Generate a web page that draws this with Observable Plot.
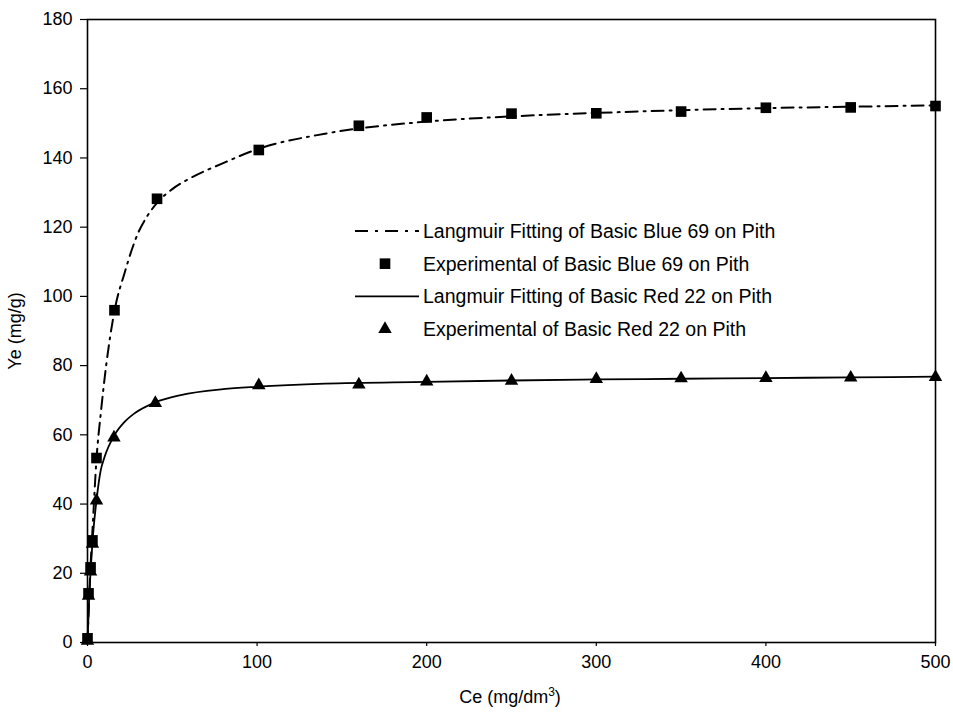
<!DOCTYPE html>
<html>
<head>
<meta charset="utf-8">
<script src="https://cdn.jsdelivr.net/npm/d3@7"></script>
<script src="https://cdn.jsdelivr.net/npm/@observablehq/plot@0.6"></script>
<style>
  html, body { margin: 0; padding: 0; background: #fff; }
  #chart { position: relative; width: 953px; height: 714px; }
  #chart svg { position: absolute; left: 0; top: 0; }
</style>
</head>
<body>
<div id="chart"></div>
<script>
// Equilibrium concentration Ce (mg/dm3) and uptake Ye (mg/g)
const blueCe  = [0, 0.6, 1.8, 2.9, 5.3, 15.9, 41, 101, 160, 200, 250, 300, 350, 400, 450, 500];
const blueYe  = [1.2, 14.2, 21.7, 29.5, 53.3, 96, 128.2, 142.3, 149.3, 151.7, 152.8, 152.9, 153.4, 154.5, 154.6, 155];

const redCe   = [0, 0.6, 1.8, 2.9, 5.3, 15.6, 40, 101, 160, 200, 250, 300, 350, 400, 450, 500];
const redYe   = [0.5, 13.5, 20.5, 28.5, 41, 59.2, 69.2, 74.3, 74.5, 75.4, 75.6, 76.1, 76.3, 76.4, 76.5, 76.7];

// Langmuir fitted curves
const blueFitCe = [0, 1, 2, 3, 5.3, 8, 11, 16, 22, 30, 35, 41, 50, 60, 80, 100, 140, 200, 250, 300, 350, 400, 450, 500];
const blueFitYe = [0, 13, 24, 33, 53, 67, 80, 96, 107, 118.5, 123, 127, 131, 134, 138.5, 142.5, 147, 150.5, 152, 153, 153.8, 154.4, 154.8, 155.2];

const redFitCe = [0, 1, 2, 3, 5.3, 7.7, 10, 16, 22, 28, 40, 55, 80, 100, 140, 200, 250, 300, 350, 400, 450, 500];
const redFitYe = [0, 13, 22, 29.5, 41, 49.5, 53.5, 60, 63.8, 66.3, 69.4, 71.5, 73.2, 73.9, 74.8, 75.3, 75.7, 76, 76.2, 76.4, 76.6, 76.8];

const xTicks = [0, 100, 200, 300, 400, 500];
const yTicks = [0, 20, 40, 60, 80, 100, 120, 140, 160, 180];

const legendItems = [
  {label: "Langmuir Fitting of Basic Blue 69 on Pith", kind: "dashdot"},
  {label: "Experimental of Basic Blue 69 on Pith", kind: "square"},
  {label: "Langmuir Fitting of Basic Red 22 on Pith", kind: "solid"},
  {label: "Experimental of Basic Red 22 on Pith", kind: "triangle"}
];

const zip = (xs, ys) => xs.map((x, i) => ({x, y: ys[i]}));
const blue = zip(blueCe, blueYe), red = zip(redCe, redYe);
const blueFit = zip(blueFitCe, blueFitYe), redFit = zip(redFitCe, redFitYe);

const FONT = "'Liberation Sans', Arial, sans-serif";
const dashDot = "12,6,2,6";
const SQ_R = 6, TRI_R = 5;

const plot = Plot.plot({
  width: 953,
  height: 714,
  marginLeft: 87,
  marginRight: 18,
  marginTop: 19,
  marginBottom: 72,
  style: {fontFamily: FONT, fontSize: "18px", color: "#000", background: "#fff"},
  x: {domain: [0, 500], ticks: xTicks, label: null, tickSize: 4, tickPadding: 9},
  y: {domain: [0, 180], ticks: yTicks, label: null, tickSize: 7, tickPadding: 8},
  marks: [
    Plot.line(blueFit, {x: "x", y: "y", curve: "monotone-x", stroke: "#000", strokeWidth: 2, strokeDasharray: dashDot}),
    Plot.line(redFit, {x: "x", y: "y", curve: "monotone-x", stroke: "#000", strokeWidth: 1.8}),
    Plot.dot(red, {x: "x", y: "y", symbol: "triangle", r: TRI_R, fill: "#000", stroke: "none"}),
    Plot.dot(blue, {x: "x", y: "y", symbol: "square", r: SQ_R, fill: "#000", stroke: "none"}),
    Plot.frame({stroke: "#000", strokeWidth: 1.6})
  ]
});

const chart = document.getElementById("chart");
chart.appendChild(plot);

const svg = d3.select(plot);
svg.selectAll("[aria-label='x-axis tick'], [aria-label='y-axis tick']").attr("stroke-width", 1.2);

// Axis titles
svg.append("text")
  .attr("transform", "translate(21,331) rotate(-90)")
  .attr("text-anchor", "middle")
  .attr("font-family", FONT).attr("font-size", 18)
  .text("Ye (mg/g)");

const xt = svg.append("text")
  .attr("x", 510).attr("y", 703)
  .attr("text-anchor", "middle")
  .attr("font-family", FONT).attr("font-size", 18);
xt.append("tspan").text("Ce (mg/dm");
xt.append("tspan").attr("dy", -7).attr("font-size", 12).text("3");
xt.append("tspan").attr("dy", 7).text(")");

// Legend inside the plotting area
const lg = svg.append("g").attr("transform", "translate(355,231)");
legendItems.forEach((d, i) => {
  const g = lg.append("g").attr("transform", `translate(0,${i * 32.7})`);
  if (d.kind === "dashdot" || d.kind === "solid") {
    g.append("line").attr("x1", 0).attr("x2", 64).attr("y1", 0).attr("y2", 0)
      .attr("stroke", "#000").attr("stroke-width", d.kind === "solid" ? 1.8 : 2)
      .attr("stroke-dasharray", d.kind === "dashdot" ? "13,7,3,7" : null);
  } else {
    const sym = d.kind === "square" ? d3.symbolSquare : d3.symbolTriangle;
    const r = d.kind === "square" ? SQ_R : TRI_R;
    g.append("path").attr("transform", "translate(30,0)")
      .attr("d", d3.symbol(sym, Math.PI * r * r)()).attr("fill", "#000");
  }
  g.append("text").attr("x", 68).attr("y", 0).attr("dy", "0.35em")
    .attr("text-anchor", "start")
    .attr("font-family", FONT).attr("font-size", 19.5).text(d.label);
});
</script>
</body>
</html>
